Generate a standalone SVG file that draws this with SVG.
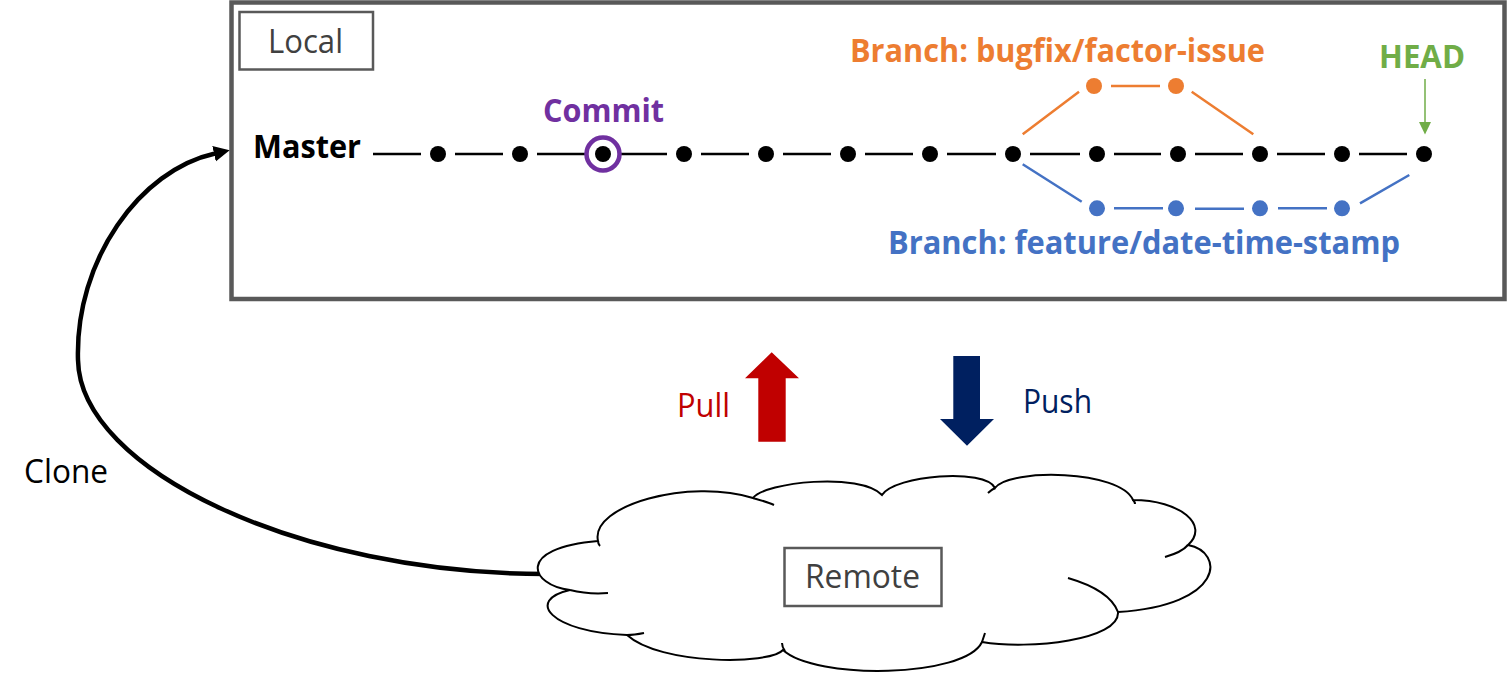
<svg xmlns="http://www.w3.org/2000/svg" width="1508" height="673" viewBox="0 0 1508 673">
  <defs>
    <style>
      text { font-family: "Open Sans", "Liberation Sans", sans-serif; font-size: 32px; }
      .b { font-weight: bold; }
      .box { fill: none; stroke: #595959; }
      .lbl { fill: #404040; }
      .m { stroke: #000; stroke-width: 2.5; fill: none; }
      .o { stroke: #ED7D31; stroke-width: 2.5; fill: none; }
      .bl { stroke: #4472C4; stroke-width: 2.5; fill: none; }
      .dk { fill: #000; }
      .dor { fill: #ED7D31; }
      .dbl { fill: #4472C4; }
      .cloud { fill: #fff; stroke: #000; stroke-width: 2; }
      .tail { fill: none; stroke: #000; stroke-width: 2; }
    </style>
    <marker id="cloneHead" markerUnits="userSpaceOnUse" markerWidth="18" markerHeight="18" refX="1" refY="8" orient="auto">
      <path d="M0,0 L16,8 L0,16 Z" fill="#000"/>
    </marker>
  </defs>
  <rect width="1508" height="673" fill="#fff"/>

  <g id="local">
    <rect class="box" x="231.5" y="2.5" width="1273" height="296.5" stroke-width="4.5"/>
    <rect class="box" x="239.5" y="12" width="133.5" height="57.5" stroke-width="2.5"/>
    <text class="lbl" x="268" y="53.3" textLength="75" lengthAdjust="spacingAndGlyphs">Local</text>
  </g>

  <g id="labels">
    <text class="b" x="253" y="158.3" fill="#000" textLength="108" lengthAdjust="spacingAndGlyphs">Master</text>
    <text class="b" x="543" y="121.7" fill="#7030A0" textLength="121" lengthAdjust="spacingAndGlyphs">Commit</text>
    <text class="b" x="850" y="61.7" fill="#ED7D31" textLength="415" lengthAdjust="spacingAndGlyphs">Branch: bugfix/factor-issue</text>
    <text class="b" x="1379" y="68.3" fill="#70AD47" textLength="86" lengthAdjust="spacingAndGlyphs">HEAD</text>
    <text class="b" x="888" y="254" fill="#4472C4" textLength="512" lengthAdjust="spacingAndGlyphs">Branch: feature/date-time-stamp</text>
  </g>

  <g id="connectors">
    <path class="m" d="M373 154H421M455 154H503M537 154H586M620 154H667M701 154H749M783 154H831M865 154H913M947 154H996M1030 154H1080M1114 154H1161M1195 154H1243M1277 154H1325M1359 154H1407"/>
    <path class="o" d="M1022.7 134.3L1079 91.7M1111 86H1160M1191.7 91.7L1253.3 134.3"/>
    <path class="bl" d="M1022.7 164.3L1081.7 201.7M1114 208.3H1163M1195 208.8H1244M1278 208.3H1327M1360 203.3L1409.3 175"/>
    <g id="head-arrow">
      <line x1="1425" y1="79" x2="1425" y2="123" stroke="#70AD47" stroke-width="1.5"/>
      <polygon points="1419,122 1431,122 1425,134.5" fill="#70AD47"/>
    </g>
    <path id="clone-arrow" d="M545 574C300 574 80 470 78 360C75 260 140 170 215 153.5" fill="none" stroke="#000" stroke-width="4.5" marker-end="url(#cloneHead)"/>
  </g>

  <g id="commits">
    <circle class="dk" cx="438" cy="154" r="8"/>
    <circle class="dk" cx="520" cy="154" r="8"/>
    <g id="commit-highlight">
      <circle class="dk" cx="603" cy="154" r="8"/>
      <circle cx="603" cy="154" r="16.5" fill="none" stroke="#7030A0" stroke-width="4.5"/>
    </g>
    <circle class="dk" cx="684" cy="154" r="8"/>
    <circle class="dk" cx="766" cy="154" r="8"/>
    <circle class="dk" cx="848" cy="154" r="8"/>
    <circle class="dk" cx="930" cy="154" r="8"/>
    <circle class="dk" cx="1013" cy="154" r="8"/>
    <circle class="dk" cx="1097" cy="154" r="8"/>
    <circle class="dk" cx="1178" cy="154" r="8"/>
    <circle class="dk" cx="1260" cy="154" r="8"/>
    <circle class="dk" cx="1342" cy="154" r="8"/>
    <circle class="dk" cx="1424" cy="154" r="8"/>
    <circle class="dor" cx="1094" cy="86" r="8"/>
    <circle class="dor" cx="1176" cy="86" r="8"/>
    <circle class="dbl" cx="1097" cy="208.3" r="8"/>
    <circle class="dbl" cx="1176" cy="208.3" r="8"/>
    <circle class="dbl" cx="1260" cy="208.3" r="8"/>
    <circle class="dbl" cx="1342" cy="208.3" r="8"/>
  </g>

  <g id="pull">
    <polygon points="771.7,352.3 799,378.3 785.7,378.3 785.7,441.7 758.3,441.7 758.3,378.3 745,378.3" fill="#C00000"/>
    <text x="677" y="416.7" fill="#C00000" textLength="53" lengthAdjust="spacingAndGlyphs">Pull</text>
  </g>

  <g id="push">
    <polygon points="953.3,356 980,356 980,419 994,419 967,445.7 940,419 953.3,419" fill="#002060"/>
    <text x="1023" y="412.7" fill="#002060" textLength="69" lengthAdjust="spacingAndGlyphs">Push</text>
  </g>

  <g id="clone-label">
    <text x="24" y="483" fill="#000" textLength="84" lengthAdjust="spacingAndGlyphs">Clone</text>
  </g>

  <g id="remote">
    <path class="cloud" d="M570 590C530 585 515 548 598 541C590 505 690 478 753 498C765 482 860 472 882 495C895 475 985 468 995 488C1010 468 1120 470 1133 500C1180 500 1210 525 1188 545C1225 552 1225 605 1118 612C1120 640 1030 650 982 642C965 678 815 680 783 650C770 665 660 665 627 635C550 632 525 600 570 590Z"/>
    <path class="tail" d="M753 498C760 500 768 502 774 505M1188 545C1182 552 1172 555 1165 557M1068 578C1092 585 1112 596 1118 612M982 642C983 639 984 636 985 633M782 643Q782 647 785 651M627 635C633 635 639 634 644 633M570 590C582 593 595 594 608 593M598 541C598 543 599 545 600 546M1133 500C1134 501 1135 503 1135 504M995 488C993 489 990 491 988 493"/>
    <rect class="box" x="784.5" y="548" width="157" height="58" stroke-width="2.5"/>
    <text class="lbl" x="805" y="588.3" textLength="115" lengthAdjust="spacingAndGlyphs">Remote</text>
  </g>
</svg>
